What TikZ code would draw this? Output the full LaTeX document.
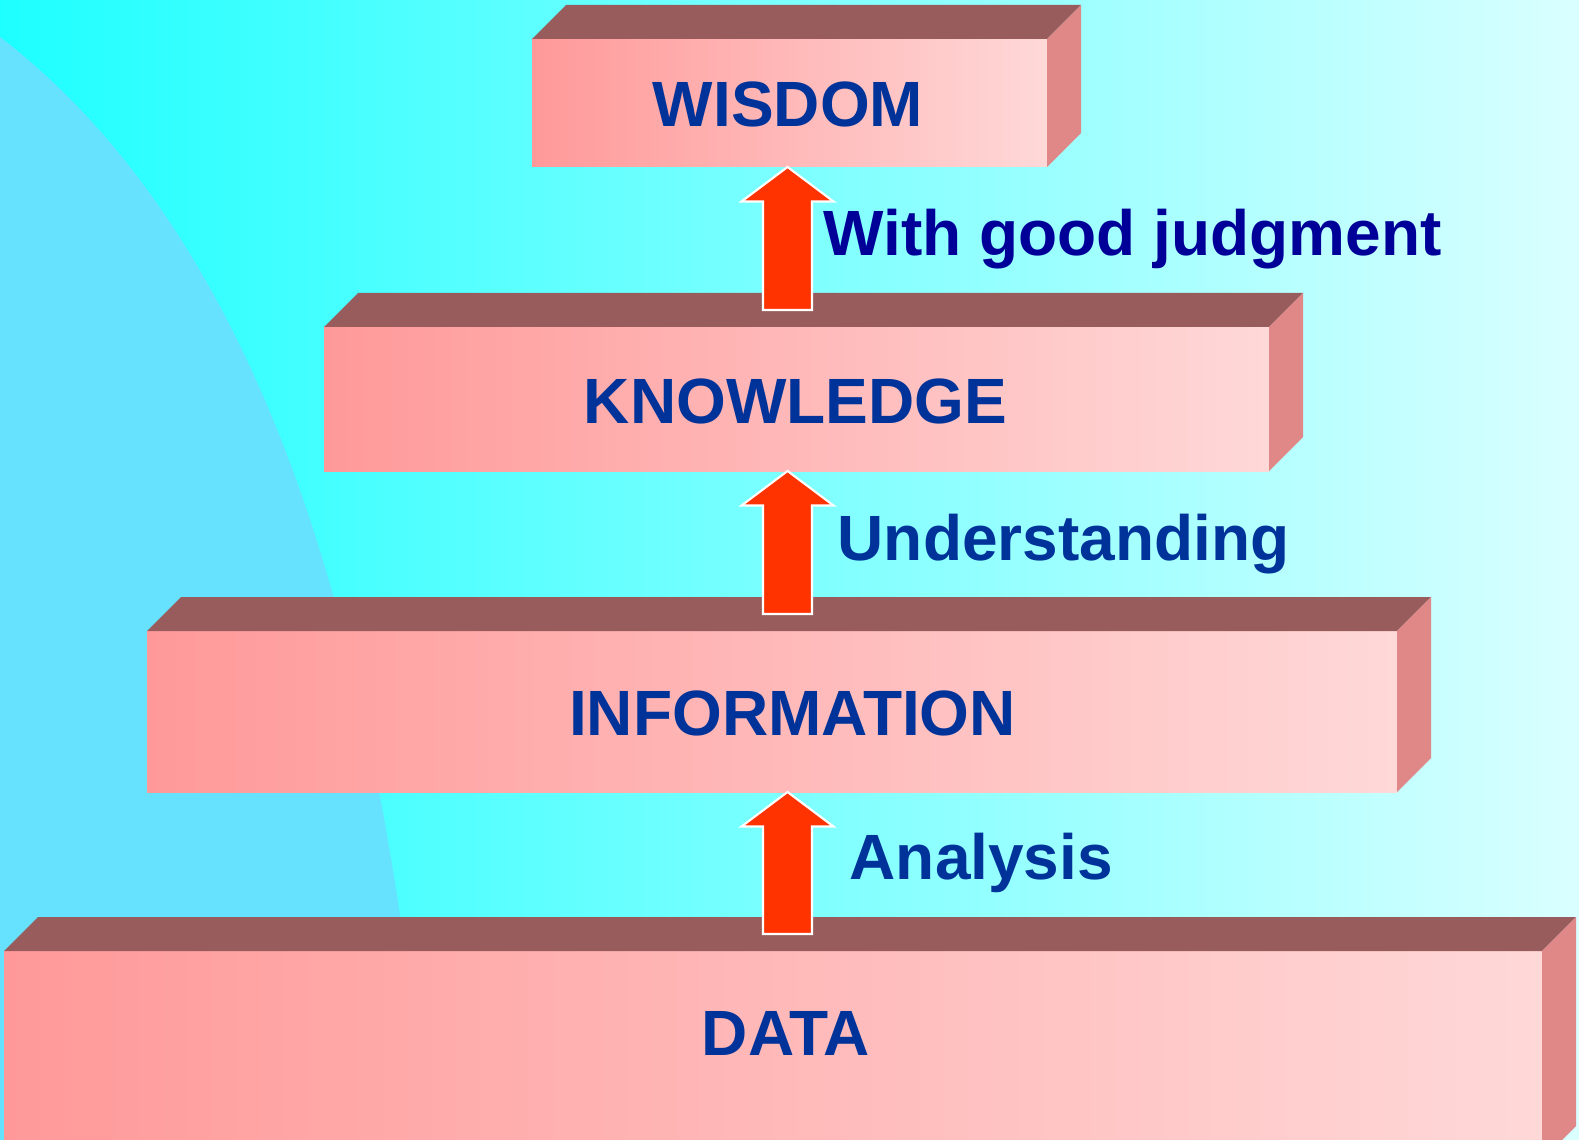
\documentclass[tikz,border=0pt]{standalone}
\usepackage{fontspec}
\setmainfont{Liberation Sans}
\usetikzlibrary{calc}
\definecolor{bgleft}{RGB}{30,255,255}
\definecolor{bgmid}{RGB}{150,255,255}
\definecolor{bgright}{RGB}{218,255,255}
\definecolor{hillblue}{RGB}{102,226,255}
\definecolor{slabfront}{RGB}{255,153,153}
\definecolor{slabfrontlight}{RGB}{255,216,216}
\definecolor{slabtop}{RGB}{152,92,92}
\definecolor{slabside}{RGB}{224,136,136}
\definecolor{arrowred}{RGB}{255,51,0}
\definecolor{levelblue}{RGB}{0,51,153}
\definecolor{stepblue}{RGB}{0,0,153}
\def\depth{34}
% slab: name, left, top, right, bottom (front face, in px)
\newcommand{\slab}[5]{%
  \coordinate (#1-nw) at (#2,#3);
  \coordinate (#1-se) at (#4,#5);
  \shade[left color=slabfront, right color=slabfrontlight] (#1-nw) rectangle (#1-se);
  \fill[slabtop] (#1-nw) -- ++(\depth,-\depth) -- ($(#4,#3)+(\depth,-\depth)$) -- (#4,#3) -- cycle;
  \fill[slabside] (#4,#3) -- ++(\depth,-\depth) -- ($(#4,#5)+(\depth,-\depth)$) -- (#4,#5) -- cycle;
}
% block arrow from lower slab up to upper slab
\newcommand{\risearrow}[2]{%
  \draw[rise] (axis |- #1-se) -- ++(46,34.5) -- ++(-21.5,0)
    -- ($(axis |- #2-nw)+(24.5,-17)$) -- ++(-49,0)
    -- ($(axis |- #1-se)+(-24.5,34.5)$) -- ++(-21.5,0) -- cycle;
}
\tikzset{
  rise/.style={fill=arrowred, draw=white, line width=0.6pt, line join=miter},
  level/.style={text=levelblue, inner sep=0pt, anchor=base, font=\fontsize{18.2pt}{20pt}\selectfont\bfseries},
  steplabel/.style={text=levelblue, inner sep=0pt, anchor=base west, font=\fontsize{18.2pt}{20pt}\selectfont\bfseries}
}
\begin{document}
\begin{tikzpicture}[x=0.01cm,y=-0.01cm]
  \useasboundingbox (0,0) rectangle (1579,1140);
  %%%%% BACKGROUND %%%%%
  \shade[left color=bgleft, middle color=bgmid, right color=bgright] (0,0) rectangle (1579,1140);
  \fill[hillblue] (0,37) .. controls (260,237) and (355,615) .. (400,915)
    -- (430,1140) -- (0,1140) -- cycle;

  %%%%% SLABS %%%%%
  \slab{data}{4}{951}{1542}{1160}
  \slab{information}{147}{631}{1397}{792}
  \slab{knowledge}{324}{327}{1269}{471}
  \slab{wisdom}{532}{39}{1047}{167}

  %%%%% ARROWS %%%%%
  \coordinate (axis) at (787.5,0);
  \risearrow{wisdom}{knowledge}
  \risearrow{knowledge}{information}
  \risearrow{information}{data}

  %%%%% LABELS %%%%%
  \node[level] (wisdomtext) at (788,127) {WISDOM};
  \node[level] (knowledgetext) at (795.5,423) {KNOWLEDGE};
  \node[level] (informationtext) at (792.5,735) {INFORMATION};
  \node[level] (datatext) at (786,1055) {DATA};

  \node[steplabel, text=stepblue] (judgment) at (823,256) {With good judgment};
  \node[steplabel] (understanding) at (837,560) {Understanding};
  \node[steplabel] (analysis) at (849,879) {Analysis};
\end{tikzpicture}
\end{document}
